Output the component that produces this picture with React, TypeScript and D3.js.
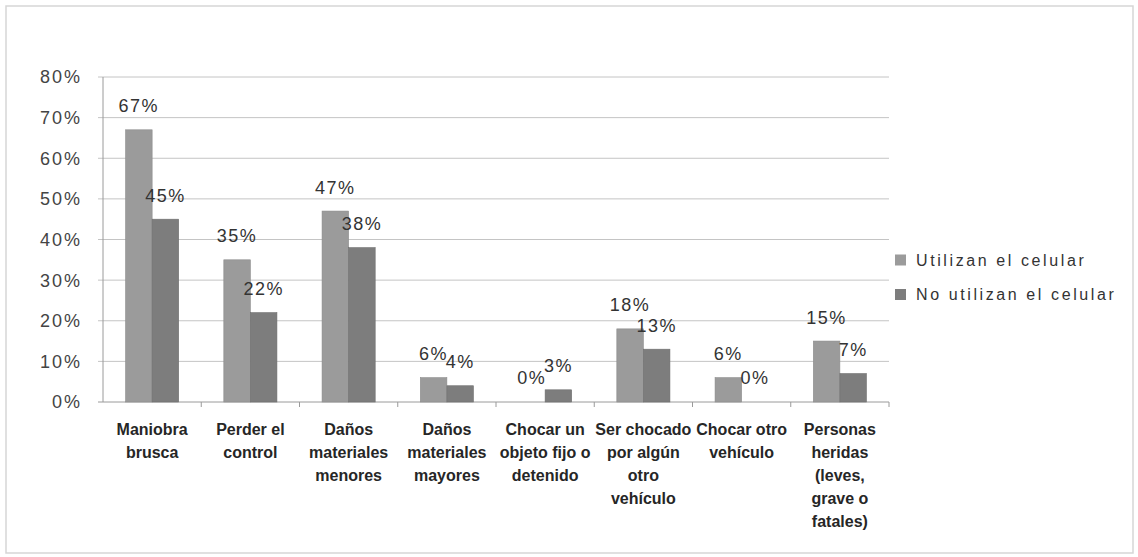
import React from "react";
import * as d3 from "d3";

const categories: string[][] = [
  ["Maniobra", "brusca"],
  ["Perder el", "control"],
  ["Daños", "materiales", "menores"],
  ["Daños", "materiales", "mayores"],
  ["Chocar un", "objeto fijo o", "detenido"],
  ["Ser chocado", "por algún", "otro", "vehículo"],
  ["Chocar otro", "vehículo"],
  ["Personas", "heridas", "(leves,", "grave o", "fatales)"],
];
const seriesNames = ["Utilizan el celular", "No utilizan el celular"];
const utilizan = [67, 35, 47, 6, 0, 18, 6, 15];
const noUtilizan = [45, 22, 38, 4, 3, 13, 0, 7];
const yTicks = [0, 10, 20, 30, 40, 50, 60, 70, 80];
const colors = ["#9b9b9b", "#7d7d7d"];

const W = 1138;
const H = 557;
const plot = { left: 103, right: 889, top: 77, bottom: 402 };

export default function App() {
  const catKeys = categories.map((_, i) => String(i));
  const x = d3.scaleBand<string>().domain(catKeys).range([plot.left, plot.right]).padding(0);
  const xs = d3.scaleBand<string>().domain(["0", "1"]).range([0, x.bandwidth()]).paddingInner(0).paddingOuter(0.85);
  const y = d3.scaleLinear().domain([0, 80]).range([plot.bottom, plot.top]);
  const series = [utilizan, noUtilizan];
  const font = "'Liberation Sans', Arial, sans-serif";

  return (
    <svg width={W} height={H} style={{ position: "absolute", left: 0, top: 0, background: "#fff" }}>
      <rect x={6} y={6} width={1127} height={547} fill="#fff" stroke="#d6d6d6" strokeWidth={1.5} />
      {/* gridlines */}
      {yTicks.map((t) => (
        <g key={t}>
          <line x1={plot.left - 5} x2={plot.right} y1={y(t)} y2={y(t)} stroke={t === 0 ? "#9a9a9a" : "#c4c4c4"} strokeWidth={1} />
          <text x={82} y={y(t)} dy="0.36em" textAnchor="end" fontFamily={font} fontSize={18} letterSpacing={2} fill="#444">
            {t + "%"}
          </text>
        </g>
      ))}
      <line x1={plot.left} x2={plot.left} y1={plot.top} y2={plot.bottom} stroke="#9a9a9a" />
      {catKeys.map((k, i) => (
        <line key={"t" + k} x1={(x(k) as number) + x.bandwidth()} x2={(x(k) as number) + x.bandwidth()} y1={plot.bottom} y2={plot.bottom + 5} stroke="#9a9a9a" />
      ))}
      {/* bars */}
      {series.map((vals, s) =>
        vals.map((v, i) => {
          const bx = (x(String(i)) as number) + (xs(String(s)) as number);
          return (
            <rect key={s + "-" + i} x={bx} y={y(v)} width={xs.bandwidth()} height={plot.bottom - y(v)} fill={colors[s]} stroke={s === 0 ? "#8c8c8c" : "#6e6e6e"} strokeWidth={0.6} />
          );
        })
      )}
      {/* data labels */}
      {series.map((vals, s) =>
        vals.map((v, i) => {
          const cx = (x(String(i)) as number) + (xs(String(s)) as number) + xs.bandwidth() / 2;
          return (
            <text key={"l" + s + "-" + i} x={cx} y={y(v) - 24} dy="0.36em" textAnchor="middle" fontFamily={font} fontSize={18} letterSpacing={1.5} fill="#333">
              {v + "%"}
            </text>
          );
        })
      )}
      {/* category labels */}
      {categories.map((lines, i) => (
        <text key={"c" + i} x={(x(String(i)) as number) + x.bandwidth() / 2} y={429} textAnchor="middle" fontFamily={font} fontSize={16} fontWeight="bold" fill="#262626">
          {lines.map((ln, j) => (
            <tspan key={j} x={(x(String(i)) as number) + x.bandwidth() / 2} y={429 + j * 23} dy="0.36em">
              {ln}
            </tspan>
          ))}
        </text>
      ))}
      {/* legend */}
      {seriesNames.map((n, s) => (
        <g key={"lg" + s} transform={`translate(895, ${260 + s * 34.5})`}>
          <rect x={0} y={-5.5} width={11} height={11} fill={colors[s]} />
          <text x={21} y={0} dy="0.36em" fontFamily={font} fontSize={16} letterSpacing={2.6} fill="#333">
            {n}
          </text>
        </g>
      ))}
    </svg>
  );
}
